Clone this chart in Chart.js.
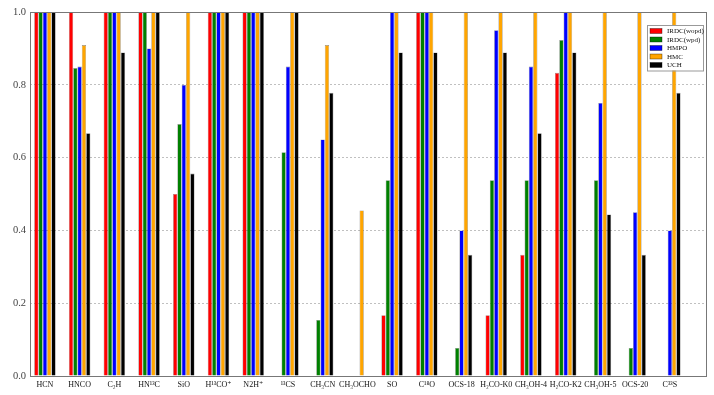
<!DOCTYPE html>
<html>
<head>
<meta charset="utf-8">
<script src="https://cdn.jsdelivr.net/npm/chart.js@4/dist/chart.umd.min.js"></script>
<style>
  html, body { margin: 0; padding: 0; background: #fff; }
  #wrap { width: 714px; height: 395px; }
</style>
</head>
<body>
<div id="wrap"><canvas id="chart"></canvas></div>
<script>
// Categories and series (fractions of detections per source type)
const molecules = ['HCN', 'HNCO', 'C₂H', 'HN¹³C', 'SiO', 'H¹³CO⁺', 'N2H⁺', '¹³CS', 'CH₃CN', 'CH₃OCHO',
    'SO', 'C¹⁸O', 'OCS-18', 'H₂CO-K0', 'CH₃OH-4', 'H₂CO-K2', 'CH₃OH-5', 'OCS-20', 'C³³S'];
const seriesNames = ['IRDC(wopd)', 'IRDC(wpd)', 'HMPO', 'HMC', 'UCH'];
const irdcWopd = [1, 1, 1, 1, 0.5, 1, 1, 0, 0, 0, 0.167, 1, 0, 0.167, 0.333, 0.833, 0, 0, 0];
const irdcWpd = [1, 0.846, 1, 1, 0.692, 1, 1, 0.615, 0.154, 0, 0.538, 1, 0.077, 0.538, 0.538, 0.923, 0.538, 0.077, 0];
const hmpo = [1, 0.85, 1, 0.9, 0.8, 1, 1, 0.85, 0.65, 0, 1, 1, 0.4, 0.95, 0.85, 1, 0.75, 0.45, 0.4];
const hmc = [1, 0.909, 1, 1, 1, 1, 1, 1, 0.909, 0.455, 1, 1, 1, 1, 1, 1, 1, 1, 1];
const uch = [1, 0.667, 0.889, 1, 0.556, 1, 1, 1, 0.778, 0, 0.889, 0.889, 0.333, 0.889, 0.667, 0.889, 0.444, 0.333, 0.778];
const yTicks = [0, 0.2, 0.4, 0.6, 0.8, 1.0];

const colors = ['#ff0000', '#008000', '#0000ff', '#ffa500', '#000000'];
const serif = "'Liberation Serif', 'DejaVu Serif', serif";

const allSeries = [irdcWopd, irdcWpd, hmpo, hmc, uch];
const datasets = allSeries.map((vals, k) => ({
    label: seriesNames[k],
    data: vals.map((v, i) => ({ x: i, y: v })),
    backgroundColor: colors[k],
    borderColor: 'rgba(0,0,0,0.45)',
    borderWidth: 0.6,
    categoryPercentage: 0.62,
    barPercentage: 1.0
}));

// frame around the plot, like matplotlib spines
const framePlugin = {
    id: 'frame',
    afterDatasetsDraw(chart) {
        const { ctx, chartArea: a } = chart;
        ctx.save();
        ctx.strokeStyle = '#777';
        ctx.lineWidth = 1;
        ctx.strokeRect(Math.round(a.left) + 0.5, Math.round(a.top) + 0.5,
            Math.round(a.right - a.left) - 1, Math.round(a.bottom - a.top));
        ctx.restore();
    }
};

// legend drawn inside the plot, upper right
const insideLegend = {
    id: 'insideLegend',
    afterDraw(chart) {
        const { ctx, chartArea: a } = chart;
        const w = 56, rowH = 8.5;
        const h = rowH * seriesNames.length + 3;
        const x0 = a.right - 4 - w, y0 = a.top + 13;
        ctx.save();
        ctx.fillStyle = '#fff';
        ctx.fillRect(x0, y0, w, h);
        ctx.strokeStyle = '#999';
        ctx.lineWidth = 1;
        ctx.strokeRect(x0 + 0.5, y0 + 0.5, w, h);
        ctx.font = '7px ' + serif;
        ctx.textBaseline = 'middle';
        chart.data.datasets.forEach((ds, i) => {
            const cy = y0 + 6 + i * rowH;
            ctx.fillStyle = ds.backgroundColor;
            ctx.fillRect(x0 + 3, cy - 2.5, 12, 5);
            ctx.strokeStyle = 'rgba(0,0,0,0.6)';
            ctx.lineWidth = 0.6;
            ctx.strokeRect(x0 + 3, cy - 2.5, 12, 5);
            ctx.fillStyle = '#111';
            ctx.fillText(ds.label, x0 + 20, cy + 0.5);
        });
        ctx.restore();
    }
};

new Chart(document.getElementById('chart'), {
    type: 'bar',
    data: { datasets },
    options: {
        responsive: true,
        maintainAspectRatio: false,
        animation: false,
        layout: { padding: { top: 12, right: 7, left: 0, bottom: 0 } },
        plugins: {
            legend: { display: false },
            tooltip: { enabled: false }
        },
        scales: {
            x: {
                type: 'linear',
                min: -0.43,
                max: 19.07,
                offset: false,
                afterBuildTicks: s => { s.ticks = molecules.map((_, i) => ({ value: i })); },
                afterFit: s => { s.height = 19; },
                grid: { display: false, drawTicks: false, offset: false },
                border: { display: false },
                ticks: {
                    autoSkip: false,
                    maxRotation: 0,
                    padding: 4,
                    color: '#111',
                    font: { family: serif, size: 8 },
                    callback: v => molecules[v] ?? ''
                }
            },
            y: {
                min: 0,
                max: 1,
                afterBuildTicks: s => { s.ticks = yTicks.map(v => ({ value: v })); },
                afterFit: s => { s.width = 30; },
                grid: {
                    drawTicks: false,
                    color: c => (c.tick && c.tick.value > 0 && c.tick.value < 1) ? '#b0b0b0' : 'rgba(0,0,0,0)',
                    lineWidth: 0.8
                },
                border: { display: false, dash: [2, 2] },
                ticks: {
                    padding: 4,
                    color: '#444',
                    font: { family: serif, size: 10.5 },
                    callback: v => v.toFixed(1)
                }
            }
        }
    },
    plugins: [framePlugin, insideLegend]
});
</script>
</body>
</html>
